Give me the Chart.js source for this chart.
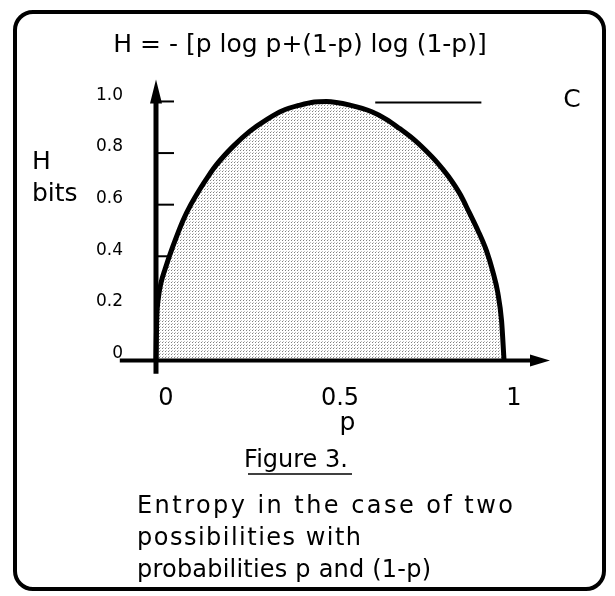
<!DOCTYPE html>
<html>
<head>
<meta charset="utf-8">
<script src="https://cdn.jsdelivr.net/npm/chart.js@4.4.0/dist/chart.umd.min.js"></script>
<style>
html, body { margin: 0; padding: 0; background: #fff; }
</style>
</head>
<body>
<canvas id="mycanvas" width="615" height="596"></canvas>
<script>
// values
var pValues = [0, 0.002, 0.007, 0.015, 0.026, 0.049, 0.078, 0.10, 0.126, 0.15, 0.174, 0.221, 0.270, 0.318,
               0.365, 0.414, 0.455, 0.49, 0.56, 0.62, 0.663, 0.70, 0.739, 0.775, 0.807, 0.84, 0.874,
               0.90, 0.925, 0.95, 0.968, 0.982, 0.993, 1.0];
var hValues = [0, 0.15, 0.24, 0.30, 0.35, 0.44, 0.54, 0.60, 0.66, 0.71, 0.755, 0.825, 0.885, 0.93,
               0.965, 0.986, 0.998, 1.0, 0.985, 0.96, 0.93, 0.895, 0.855, 0.81, 0.765, 0.71, 0.64,
               0.57, 0.50, 0.42, 0.34, 0.26, 0.15, 0];
var yTicks = [0, 0.2, 0.4, 0.6, 0.8, 1.0];
var yTickLabels = ['0', '0.2', '0.4', '0.6', '0.8', '1.0'];
var xTicks = [0, 0.5, 1];
var xTickLabels = ['0', '0.5', '1'];
var titleText = 'H = - [p log p+(1-p) log (1-p)]';
var yAxisName = ['H', 'bits'];
var xAxisName = 'p';
var peakLabel = 'C';
var figureLabel = 'Figure 3.';
var caption = ['Entropy in the case of two', 'possibilities with', 'probabilities p and (1-p)'];
var captionWidths = [376, 224, 294];

var FONT = "'DejaVu Sans', sans-serif";

// stippled fill like the print
var pc = document.createElement('canvas');
pc.width = 3; pc.height = 3;
var g = pc.getContext('2d');
g.fillStyle = '#fff'; g.fillRect(0, 0, 3, 3);
g.fillStyle = '#808080'; g.fillRect(0, 0, 1, 1);
g.fillStyle = '#c0c0c0'; g.fillRect(1, 2, 1, 1);
var stipple = g.createPattern(pc, 'repeat');

var points = [];
for (var i = 0; i < pValues.length; i++) {
	points.push({x: pValues[i], y: hValues[i]});
}

var figurePlugin = {
	id: 'figure',
	beforeDatasetsDraw: function(chart) {
		var c = chart.ctx, xs = chart.scales.x, ys = chart.scales.y;
		var x0 = xs.getPixelForValue(0);
		c.save();
		c.strokeStyle = '#000';
		c.lineWidth = 2;
		yTicks.forEach(function(v) {
			if (v === 0) return;
			var y = ys.getPixelForValue(v);
			c.beginPath(); c.moveTo(x0, y); c.lineTo(x0 + 18, y); c.stroke();
		});
		c.restore();
	},
	afterDatasetsDraw: function(chart) {
		var c = chart.ctx, xs = chart.scales.x, ys = chart.scales.y;
		var x0 = xs.getPixelForValue(0), y0 = ys.getPixelForValue(0);
		var top = ys.getPixelForValue(1.085), bottom = ys.getPixelForValue(-0.055);
		var left = xs.getPixelForValue(-0.104), right = chart.chartArea.right;
		c.save();
		c.fillStyle = '#000';
		c.strokeStyle = '#000';

		// y axis with arrow
		c.lineWidth = 5;
		c.beginPath(); c.moveTo(x0, bottom); c.lineTo(x0, top + 18); c.stroke();
		c.beginPath(); c.moveTo(x0, top); c.lineTo(x0 - 6, top + 24); c.lineTo(x0 + 6, top + 24); c.closePath(); c.fill();

		// x axis with arrow
		c.lineWidth = 4;
		c.beginPath(); c.moveTo(left, y0 + 1); c.lineTo(right - 14, y0 + 1); c.stroke();
		c.beginPath(); c.moveTo(right, y0 + 1); c.lineTo(right - 20, y0 - 5); c.lineTo(right - 20, y0 + 7); c.closePath(); c.fill();

		// peak marker
		var yc = ys.getPixelForValue(1.0) + 1;
		c.lineWidth = 2;
		c.beginPath(); c.moveTo(xs.getPixelForValue(0.63), yc); c.lineTo(xs.getPixelForValue(0.935), yc); c.stroke();
		c.font = '25px ' + FONT;
		c.textBaseline = 'middle';
		c.textAlign = 'left';
		c.fillText(peakLabel, xs.getPixelForValue(1.17), yc - 2);

		// title
		c.textAlign = 'center';
		c.fillText(titleText, 300, 45);

		// axis names
		c.textAlign = 'left';
		c.fillText(yAxisName[0], 32, 162);
		c.fillText(yAxisName[1], 32, 194);
		c.textAlign = 'center';
		c.fillText(xAxisName, xs.getPixelForValue(0.55), 423);

		// figure label, underlined
		c.font = '24px ' + FONT;
		c.fillText(figureLabel, 296, 461);
		c.lineWidth = 1.5;
		c.beginPath(); c.moveTo(248, 474); c.lineTo(352, 474); c.stroke();

		// caption, stretched to the printed line lengths
		c.textAlign = 'left';
		c.textBaseline = 'alphabetic';
		caption.forEach(function(line, k) {
			c.letterSpacing = '0px';
			var w = c.measureText(line).width;
			var sp = Math.max(0, (captionWidths[k] - w) / (line.length - 1));
			c.letterSpacing = sp.toFixed(2) + 'px';
			c.fillText(line, 137, 513 + k * 32);
		});
		c.letterSpacing = '0px';

		// frame
		c.lineWidth = 4;
		c.beginPath();
		c.roundRect(15, 12, 589, 577, 18);
		c.stroke();
		c.restore();
	}
};

var ctx = document.getElementById('mycanvas');
var chart = new Chart(ctx, {
	type: 'line',
	data: {
		datasets: [{
			data: points,
			borderColor: '#000',
			borderWidth: 5,
			backgroundColor: stipple,
			fill: 'origin',
			pointRadius: 0,
			cubicInterpolationMode: 'monotone'
		}]
	},
	options: {
		responsive: false,
		animation: false,
		devicePixelRatio: 1,
		layout: { padding: { left: 74, right: 65, top: 70.5, bottom: 183.3 } },
		plugins: { legend: { display: false }, tooltip: { enabled: false } },
		scales: {
			x: {
				type: 'linear',
				min: -0.0632,
				max: 1.1322,
				afterBuildTicks: function(s) { s.ticks = xTicks.map(function(v) { return {value: v}; }); },
				afterFit: function(s) { s.height = 30; },
				grid: { display: false },
				border: { display: false },
				ticks: {
					autoSkip: false,
					maxRotation: 0,
					padding: -6,
					labelOffset: 10,
					color: '#000',
					font: { family: FONT, size: 24 },
					callback: function(v) { return xTickLabels[xTicks.indexOf(v)]; }
				}
			},
			y: {
				type: 'linear',
				min: -0.09,
				max: 1.12,
				afterBuildTicks: function(s) { s.ticks = yTicks.map(function(v) { return {value: v}; }); },
				afterFit: function(s) { s.width = 60; },
				grid: { display: false },
				border: { display: false },
				ticks: {
					padding: 3,
					labelOffset: -6,
					color: '#000',
					font: { family: FONT, size: 17 },
					callback: function(v) { return yTickLabels[yTicks.indexOf(v)]; }
				}
			}
		}
	},
	plugins: [figurePlugin]
});
</script>
</body>
</html>
